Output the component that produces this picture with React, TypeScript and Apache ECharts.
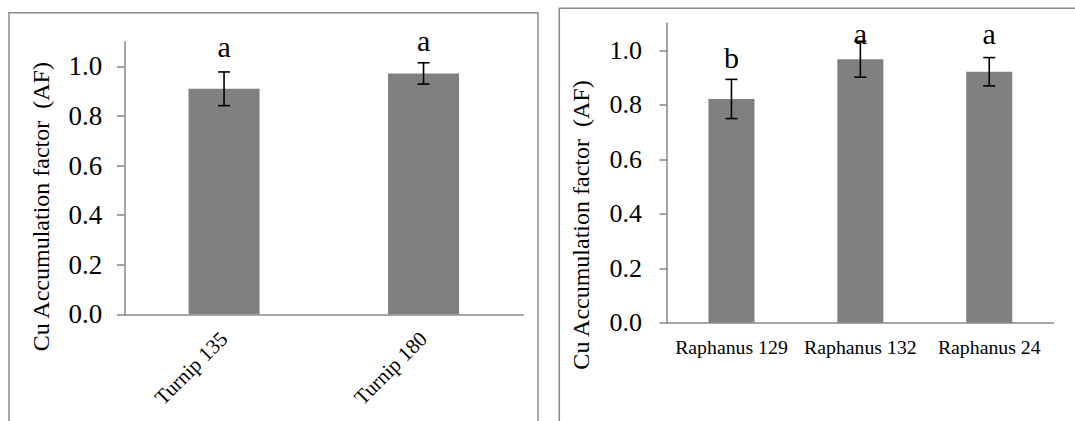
import React, { useEffect, useRef } from "react";
import * as echarts from "echarts";

// ---- Data ----
const turnipCategories = ["Turnip 135", "Turnip 180"];
const turnipMeans = [0.91, 0.972];
const turnipErrors = [0.068, 0.043];
const turnipLetters = ["a", "a"];
const turnipLetterLevels = [1.079, 1.106];

const raphanusCategories = ["Raphanus 129", "Raphanus 132", "Raphanus 24"];
const raphanusMeans = [0.822, 0.968, 0.922];
const raphanusErrors = [0.072, 0.066, 0.052];
const raphanusLetters = ["b", "a", "a"];
const raphanusLetterLevels = [0.975, 1.061, 1.061];

const yTickValues = [0, 0.2, 0.4, 0.6, 0.8, 1.0];
const yMin = 0;
const yMax = 1.1;
const yInterval = 0.2;
const yTitle = "Cu Accumulation factor\u00a0\u00a0(AF)";

const FONT = "'Liberation Serif', 'Times New Roman', serif";
const AXIS_GRAY = "#898989";
const BAR_GRAY = "#808080";

function errorSeries(idx: number, means: number[], errs: number[]) {
  return {
    type: "custom",
    xAxisIndex: idx,
    yAxisIndex: idx,
    z: 5,
    data: means.map((m, i) => [i, m, errs[i]]),
    encode: { x: 0, y: 1 },
    renderItem: (_params: any, api: any) => {
      const x = api.value(0);
      const m = api.value(1);
      const e = api.value(2);
      const top = api.coord([x, m + e]);
      const bot = api.coord([x, m - e]);
      const hw = 6;
      const st = { stroke: "#000", lineWidth: 1.6 };
      return {
        type: "group",
        children: [
          { type: "line", shape: { x1: top[0], y1: top[1], x2: bot[0], y2: bot[1] }, style: st },
          { type: "line", shape: { x1: top[0] - hw, y1: top[1], x2: top[0] + hw, y2: top[1] }, style: st },
          { type: "line", shape: { x1: bot[0] - hw, y1: bot[1], x2: bot[0] + hw, y2: bot[1] }, style: st },
        ],
      };
    },
  };
}

function letterSeries(idx: number, letters: string[], levels: number[]) {
  return {
    type: "custom",
    xAxisIndex: idx,
    yAxisIndex: idx,
    z: 6,
    data: levels.map((v, i) => [i, v]),
    encode: { x: 0, y: 1 },
    renderItem: (params: any, api: any) => {
      const p = api.coord([api.value(0), api.value(1)]);
      return {
        type: "text",
        x: p[0],
        y: p[1],
        style: {
          text: letters[params.dataIndex],
          fontSize: 30,
          fontFamily: FONT,
          fill: "#000",
          align: "center",
          verticalAlign: "middle",
        },
      };
    },
  };
}

function yAxisCfg(idx: number, fontSize: number, margin: number) {
  return {
    type: "value",
    gridIndex: idx,
    min: yMin,
    max: yMax,
    interval: yInterval,
    axisLine: { show: true, lineStyle: { color: AXIS_GRAY, width: 1.5 } },
    axisTick: {
      show: true,
      length: 7.5,
      customValues: yTickValues,
      lineStyle: { color: AXIS_GRAY, width: 1.5 },
    },
    axisLabel: {
      show: true,
      showMaxLabel: false,
      formatter: (v: number) => (v > 1.05 ? "" : v.toFixed(1)),
      fontSize: fontSize,
      fontFamily: FONT,
      color: "#000",
      margin: margin,
    },
    splitLine: { show: false },
  };
}

function titleText(x: number, y: number) {
  return {
    type: "text",
    x,
    y,
    rotation: Math.PI / 2,
    style: {
      text: yTitle,
      fontSize: 24,
      fontFamily: FONT,
      fill: "#000",
      align: "center",
      verticalAlign: "middle",
    },
  };
}

export default function App() {
  const ref = useRef<HTMLDivElement>(null);
  useEffect(() => {
    if (!ref.current) return;
    const chart = echarts.init(ref.current, null, { renderer: "svg" });
    chart.setOption({
      animation: false,
      backgroundColor: "#fff",
      textStyle: { fontFamily: FONT },
      grid: [
        { left: 124.3, top: 41.7, width: 399, height: 272.6 },
        { left: 667, top: 23.3, width: 386.7, height: 299.4 },
      ],
      xAxis: [
        {
          type: "category",
          gridIndex: 0,
          data: turnipCategories,
          axisLine: { show: true, lineStyle: { color: AXIS_GRAY, width: 1.5 } },
          axisTick: { show: false },
          axisLabel: {
            interval: 0,
            rotate: 45,
            fontSize: 21,
            fontFamily: FONT,
            color: "#000",
            margin: 21,
          },
        },
        {
          type: "category",
          gridIndex: 1,
          data: raphanusCategories,
          axisLine: { show: true, lineStyle: { color: AXIS_GRAY, width: 1.5 } },
          axisTick: { show: false },
          axisLabel: {
            interval: 0,
            fontSize: 19.8,
            fontFamily: FONT,
            color: "#000",
            margin: 14,
          },
        },
      ],
      yAxis: [yAxisCfg(0, 27, 22), yAxisCfg(1, 26, 25)],
      graphic: [
        {
          type: "rect",
          shape: { x: 9, y: 12.7, width: 529, height: 430 },
          style: { fill: "none", stroke: "#8c8c8c", lineWidth: 1.5 },
          silent: true,
        },
        {
          type: "rect",
          shape: { x: 559.3, y: 8.3, width: 540, height: 440 },
          style: { fill: "none", stroke: "#8c8c8c", lineWidth: 1.5 },
          silent: true,
        },
        titleText(41, 206.7),
        titleText(581, 225),
      ],
      series: [
        {
          type: "bar",
          xAxisIndex: 0,
          yAxisIndex: 0,
          data: turnipMeans,
          barWidth: "35.6%",
          itemStyle: { color: BAR_GRAY },
        },
        {
          type: "bar",
          xAxisIndex: 1,
          yAxisIndex: 1,
          data: raphanusMeans,
          barWidth: "35.7%",
          itemStyle: { color: BAR_GRAY },
        },
        errorSeries(0, turnipMeans, turnipErrors),
        errorSeries(1, raphanusMeans, raphanusErrors),
        letterSeries(0, turnipLetters, turnipLetterLevels),
        letterSeries(1, raphanusLetters, raphanusLetterLevels),
      ],
    });
    return () => chart.dispose();
  }, []);
  return (
    <div
      ref={ref}
      style={{ position: "fixed", left: 0, top: 0, width: 1075, height: 421 }}
    />
  );
}
